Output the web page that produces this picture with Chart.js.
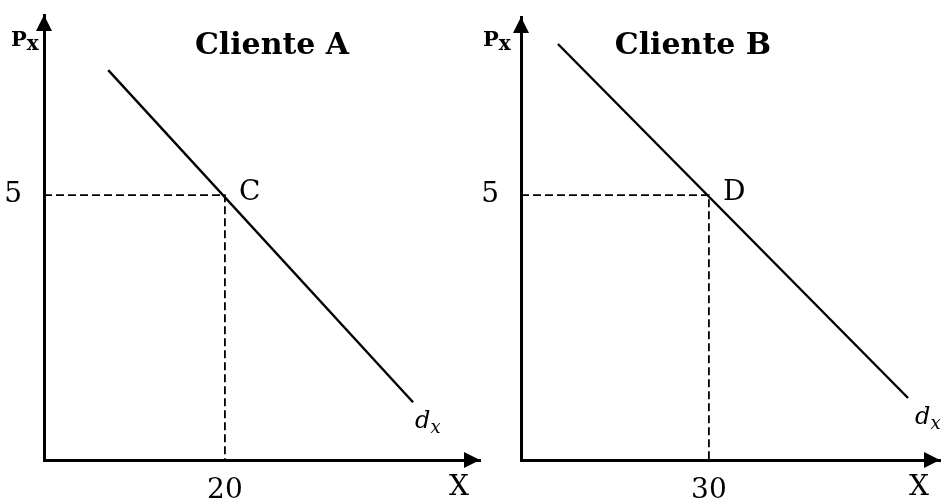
<!DOCTYPE html>
<html>
<head>
<meta charset="utf-8">
<script src="https://cdn.jsdelivr.net/npm/chart.js@4/dist/chart.umd.min.js"></script>
<style>
	html, body { margin: 0; padding: 0; background: #fff; }
	.panel { position: absolute; top: 0; height: 502px; }
	#boxA { left: 0; width: 481px; }
	#boxB { left: 481px; width: 465px; }
</style>
</head>
<body>
<div class="panel" id="boxA"><canvas id="chartA"></canvas></div>
<div class="panel" id="boxB"><canvas id="chartB"></canvas></div>
<script>
// Cliente A
const demandA_x = [7.1, 40.8];
const demandA_y = [7.36, 1.09];
const pointA = { x: 20, y: 5 };
const xTicksA = [20];
const yTicksA = [5];

// Cliente B
const demandB_x = [5.9, 61.8];
const demandB_y = [7.85, 1.17];
const pointB = { x: 30, y: 5 };
const xTicksB = [30];
const yTicksB = [5];

const SERIF = '"DejaVu Serif", "Liberation Serif", serif';

// arrows, titles and the little letters
const decor = {
	id: 'decor',
	afterDraw(chart, args, o) {
		const ctx = chart.ctx;
		const a = chart.chartArea;
		const xs = chart.scales.x, ys = chart.scales.y;
		ctx.save();
		ctx.fillStyle = '#000';

		// arrow heads
		ctx.beginPath();
		ctx.moveTo(a.left, a.top);
		ctx.lineTo(a.left - 8, a.top + 16);
		ctx.lineTo(a.left + 8, a.top + 16);
		ctx.closePath();
		ctx.fill();
		ctx.beginPath();
		ctx.moveTo(a.right, a.bottom);
		ctx.lineTo(a.right - 16, a.bottom - 8);
		ctx.lineTo(a.right - 16, a.bottom + 8);
		ctx.closePath();
		ctx.fill();

		// title
		ctx.font = 'bold 30px ' + SERIF;
		ctx.textAlign = 'center';
		ctx.textBaseline = 'alphabetic';
		ctx.fillText(o.title, o.titleX, 54);

		// P_x
		ctx.textAlign = 'left';
		ctx.font = 'bold 21px ' + SERIF;
		ctx.fillText('P', o.pX, 46);
		const pw = ctx.measureText('P').width;
		ctx.font = 'bold 20px ' + SERIF;
		ctx.fillText('x', o.pX + pw, 50);

		// X
		ctx.font = '28px ' + SERIF;
		ctx.textAlign = 'center';
		ctx.textBaseline = 'middle';
		ctx.fillText('X', a.right - 21, 488);

		// point label
		ctx.textAlign = 'left';
		ctx.fillText(o.point, xs.getPixelForValue(o.px) + 14, ys.getPixelForValue(o.py) - 2);

		// d_x
		const ex = xs.getPixelForValue(o.ex), ey = ys.getPixelForValue(o.ey);
		ctx.textBaseline = 'alphabetic';
		ctx.font = 'italic 24px ' + SERIF;
		ctx.fillText('d', ex + o.dOff, ey + 26);
		const dw = ctx.measureText('d').width;
		ctx.font = 'italic 18px ' + SERIF;
		ctx.fillText('x', ex + o.dOff + dw, ey + 31);
		ctx.restore();
	}
};

function makeChart(id, cfg) {
	const ctx = document.getElementById(id).getContext('2d');
	return new Chart(ctx, {
		type: 'line',
		data: {
			datasets: [
				{
					data: cfg.dx.map((v, i) => ({ x: v, y: cfg.dy[i] })),
					borderColor: '#000',
					borderWidth: 2.4,
					pointRadius: 0,
				},
				{
					data: [{ x: 0, y: cfg.pt.y }, { x: cfg.pt.x, y: cfg.pt.y }, { x: cfg.pt.x, y: 0 }],
					borderColor: '#000',
					borderWidth: 1.8,
					borderDash: [8, 4],
					pointRadius: 0,
				},
			],
		},
		options: {
			responsive: true,
			maintainAspectRatio: false,
			animation: false,
			layout: { padding: { top: cfg.top, right: cfg.right, left: 0, bottom: 0 } },
			scales: {
				x: {
					type: 'linear',
					min: 0,
					max: cfg.xmax,
					grid: { display: false, drawTicks: false },
					border: { display: true, color: '#000', width: 3 },
					ticks: { color: '#000', font: { family: SERIF, size: 28 }, padding: 14, maxRotation: 0 },
					afterBuildTicks: s => { s.ticks = cfg.xt.map(v => ({ value: v })); },
					afterFit: s => { s.height = 42; s.paddingLeft = 0; s.paddingRight = 0; },
				},
				y: {
					type: 'linear',
					min: 0,
					max: cfg.ymax,
					grid: { display: false, drawTicks: false },
					border: { display: true, color: '#000', width: 3 },
					ticks: { color: '#000', font: { family: SERIF, size: 28 }, padding: 22 },
					afterBuildTicks: s => { s.ticks = cfg.yt.map(v => ({ value: v })); },
					afterFit: s => { s.width = cfg.yw; s.paddingTop = 0; s.paddingBottom = 0; },
				},
			},
			plugins: {
				legend: { display: false },
				tooltip: { enabled: false },
				decor: cfg.decor,
			},
		},
		plugins: [decor],
	});
}

makeChart('chartA', {
	dx: demandA_x, dy: demandA_y, pt: pointA, xt: xTicksA, yt: yTicksA,
	xmax: 48.2, ymax: 8.4, top: 15, right: 1, yw: 44,
	decor: { title: 'Cliente A', titleX: 272, pX: 11, point: 'C', px: pointA.x, py: pointA.y, ex: demandA_x[1], ey: demandA_y[1], dOff: 2 },
});

makeChart('chartB', {
	dx: demandB_x, dy: demandB_y, pt: pointB, xt: xTicksB, yt: yTicksB,
	xmax: 66.9, ymax: 8.36, top: 17, right: 6, yw: 40,
	decor: { title: 'Cliente B', titleX: 212, pX: 2, point: 'D', px: pointB.x, py: pointB.y, ex: demandB_x[1], ey: demandB_y[1], dOff: 7 },
});
</script>
</body>
</html>
